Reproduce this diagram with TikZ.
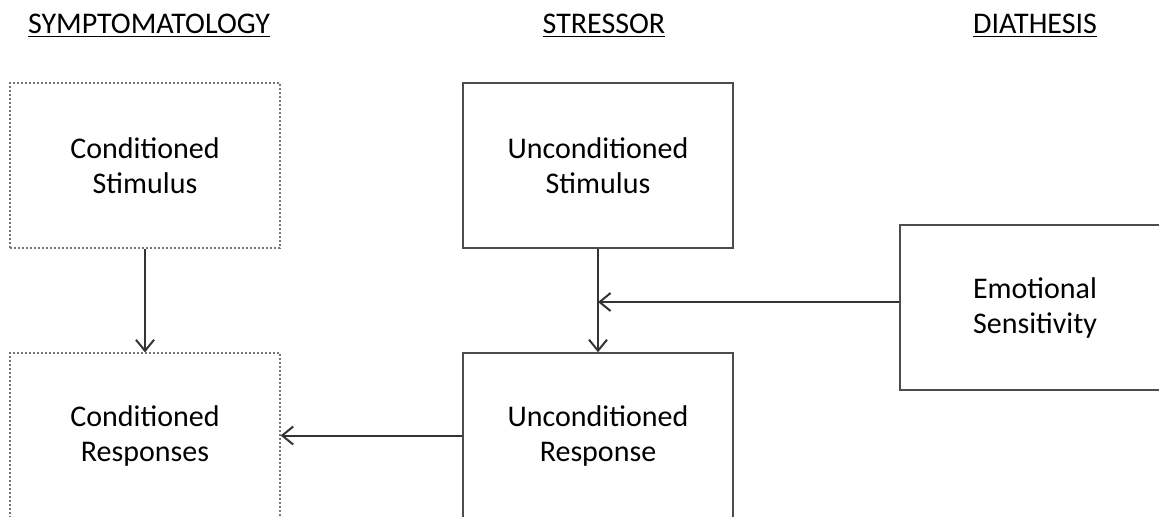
\documentclass[tikz,border=0pt]{standalone}
\usepackage{fontspec}
\setmainfont{Carlito}
\usetikzlibrary{arrows.meta}

\begin{document}
\begin{tikzpicture}[x=0.5pt,y=-0.5pt,
		box/.style={draw=black!70,line width=0.75pt,minimum width=135pt,minimum height=82.5pt,align=center,font=\fontsize{15}{17.5}\selectfont},
		dotbox/.style={box,draw=black!55,line width=0.6pt,dash pattern=on 1.2pt off 0.8pt},
		head/.style={anchor=base,text=black,font=\fontsize{15}{18}\selectfont},
		arr/.style={-{Straight Barb[length=5.5pt,width=9pt]},draw=black!80,line width=1pt}]
				\useasboundingbox (0,0) rectangle (1159,516);
				
				\node[head] (hsym) at (149,33) {\underline{SYMPTOMATOLOGY}};
				\node[head] (hstr) at (604,33) {\underline{STRESSOR}};
				\node[head] (hdia) at (1035,33) {\underline{DIATHESIS}};
				
				\node[dotbox] (cs) at (145,165.5) {Conditioned\\Stimulus};%CS
				\node[dotbox] (cr) at (145,435.5) {Conditioned\\Responses};%CR
				\node[box] (us) at (598,165.5) {Unconditioned\\Stimulus};%US
				\node[box] (ur) at (598,435.5) {Unconditioned\\Response};%UR
				\node[box] (es) at (1035,307.5) {Emotional\\Sensitivity};%diathesis
				\coordinate (j) at (us.south |- 0,302);
				
				\draw[arr] (cs) -- (cr);
				\draw[arr] (us) -- (ur);
				\draw[arr] (es.west |- j) -- (j);
				\draw[arr] (ur.west) -- (cr.east);
			\end{tikzpicture}
\end{document}
